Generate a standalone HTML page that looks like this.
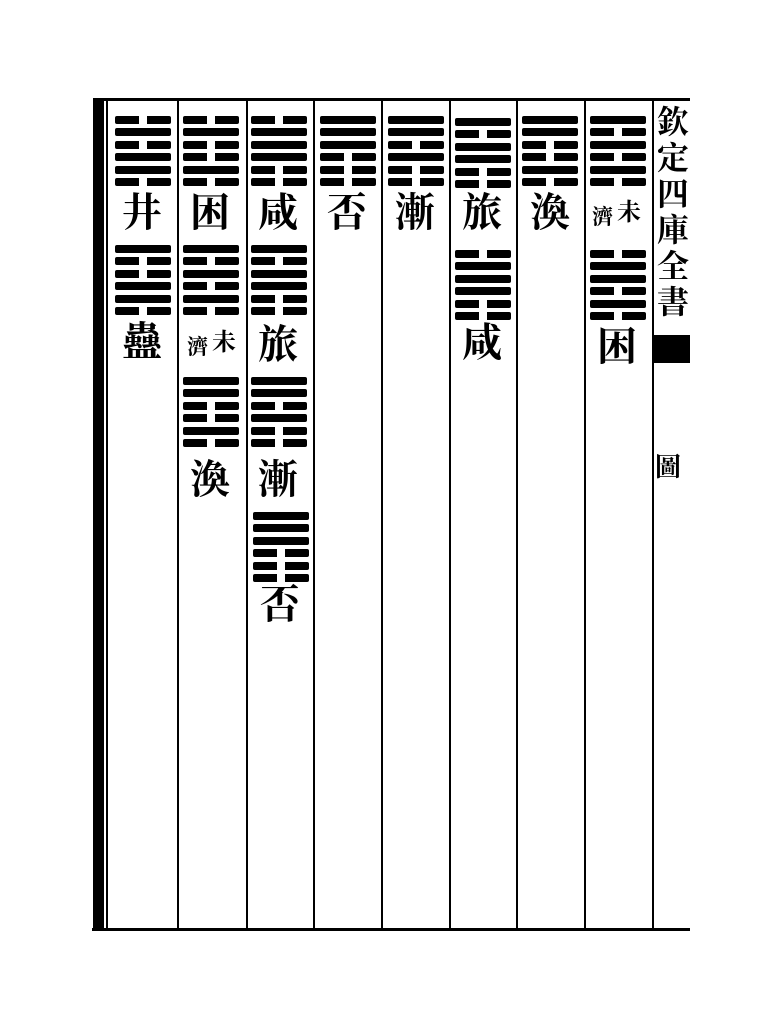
<!DOCTYPE html>
<html><head><meta charset="utf-8"><style>
body{margin:0;width:776px;height:1024px;background:#fff;position:relative;overflow:hidden;font-family:"Liberation Serif","Noto Serif CJK SC","Noto Sans CJK TC",serif;}
.a{position:absolute;background:#000}
.h{position:absolute;width:56px;height:70px;display:flex;flex-direction:column;justify-content:space-between}
.h i{display:block;height:8px;border-radius:2px}
.y{background:#000}
.n{background:linear-gradient(to right,#000 0 43%,transparent 43% 57%,#000 57%)}
.t{position:absolute;width:60px;text-align:center;font-size:40px;line-height:44px;color:#000;font-weight:bold}
.s{position:absolute;font-size:24px;line-height:26px;color:#000;font-weight:bold}
</style></head><body>
<div class="a" style="left:93px;top:99px;width:11px;height:832px"></div>
<div class="a" style="left:106px;top:99px;width:2px;height:832px"></div>
<div class="a" style="left:93px;top:98px;width:597px;height:3px"></div>
<div class="a" style="left:92px;top:928px;width:598px;height:3px"></div>
<div class="a" style="left:177px;top:100px;width:2px;height:830px"></div>
<div class="a" style="left:246px;top:100px;width:2px;height:830px"></div>
<div class="a" style="left:313px;top:100px;width:2px;height:830px"></div>
<div class="a" style="left:381px;top:100px;width:2px;height:830px"></div>
<div class="a" style="left:449px;top:100px;width:2px;height:830px"></div>
<div class="a" style="left:516px;top:100px;width:2px;height:830px"></div>
<div class="a" style="left:584px;top:100px;width:2px;height:830px"></div>
<div class="a" style="left:652px;top:100px;width:2px;height:830px"></div>
<div class="a" style="left:652px;top:335px;width:38px;height:28px"></div>

<!-- row 1 -->
<div class="h" style="left:115px;top:116px"><i class="n"></i><i class="y"></i><i class="n"></i><i class="y"></i><i class="y"></i><i class="n"></i></div>
<div class="h" style="left:183px;top:116px"><i class="n"></i><i class="y"></i><i class="n"></i><i class="n"></i><i class="y"></i><i class="n"></i></div>
<div class="h" style="left:251px;top:116px"><i class="n"></i><i class="y"></i><i class="y"></i><i class="y"></i><i class="n"></i><i class="n"></i></div>
<div class="h" style="left:320px;top:116px"><i class="y"></i><i class="y"></i><i class="y"></i><i class="n"></i><i class="n"></i><i class="n"></i></div>
<div class="h" style="left:388px;top:116px"><i class="y"></i><i class="y"></i><i class="n"></i><i class="y"></i><i class="n"></i><i class="n"></i></div>
<div class="h" style="left:455px;top:118px"><i class="y"></i><i class="n"></i><i class="y"></i><i class="y"></i><i class="n"></i><i class="n"></i></div>
<div class="h" style="left:522px;top:116px"><i class="y"></i><i class="y"></i><i class="n"></i><i class="n"></i><i class="y"></i><i class="n"></i></div>
<div class="h" style="left:590px;top:116px"><i class="y"></i><i class="n"></i><i class="y"></i><i class="n"></i><i class="y"></i><i class="n"></i></div>

<div class="t" style="left:112px;top:191px">井</div>
<div class="t" style="left:180px;top:191px">困</div>
<div class="t" style="left:248px;top:191px">咸</div>
<div class="t" style="left:317px;top:191px">否</div>
<div class="t" style="left:385px;top:191px">漸</div>
<div class="t" style="left:452px;top:191px">旅</div>
<div class="t" style="left:520px;top:191px">渙</div>
<div class="s" style="left:617px;top:200px">未</div>
<div class="s" style="left:592px;top:204px;font-size:21px">濟</div>

<!-- row 2 -->
<div class="h" style="left:115px;top:245px"><i class="y"></i><i class="n"></i><i class="n"></i><i class="y"></i><i class="y"></i><i class="n"></i></div>
<div class="h" style="left:183px;top:245px"><i class="y"></i><i class="n"></i><i class="y"></i><i class="n"></i><i class="y"></i><i class="n"></i></div>
<div class="h" style="left:251px;top:245px"><i class="y"></i><i class="n"></i><i class="y"></i><i class="y"></i><i class="n"></i><i class="n"></i></div>
<div class="h" style="left:455px;top:250px"><i class="n"></i><i class="y"></i><i class="y"></i><i class="y"></i><i class="n"></i><i class="n"></i></div>
<div class="h" style="left:590px;top:250px"><i class="n"></i><i class="y"></i><i class="y"></i><i class="n"></i><i class="y"></i><i class="n"></i></div>

<div class="t" style="left:112px;top:320px">蠱</div>
<div class="s" style="left:212px;top:330px">未</div>
<div class="s" style="left:187px;top:334px;font-size:21px">濟</div>
<div class="t" style="left:248px;top:323px">旅</div>
<div class="t" style="left:452px;top:321px">咸</div>
<div class="t" style="left:587px;top:325px">困</div>

<!-- row 3 -->
<div class="h" style="left:183px;top:377px"><i class="y"></i><i class="y"></i><i class="n"></i><i class="n"></i><i class="y"></i><i class="n"></i></div>
<div class="h" style="left:251px;top:377px"><i class="y"></i><i class="y"></i><i class="n"></i><i class="y"></i><i class="n"></i><i class="n"></i></div>
<div class="t" style="left:180px;top:458px">渙</div>
<div class="t" style="left:248px;top:458px">漸</div>
<div class="h" style="left:253px;top:512px"><i class="y"></i><i class="y"></i><i class="y"></i><i class="n"></i><i class="n"></i><i class="n"></i></div>
<div class="t" style="left:250px;top:583px">否</div>

<!-- right margin -->
<div style="position:absolute;left:655px;top:104px;width:36px;font-size:32px;line-height:36px;color:#000;text-align:center;font-weight:bold">欽<br>定<br>四<br>庫<br>全<br>書</div>
<div style="position:absolute;left:655px;top:454px;font-size:26px;line-height:28px;color:#000;font-weight:bold">圖</div>
</body></html>
